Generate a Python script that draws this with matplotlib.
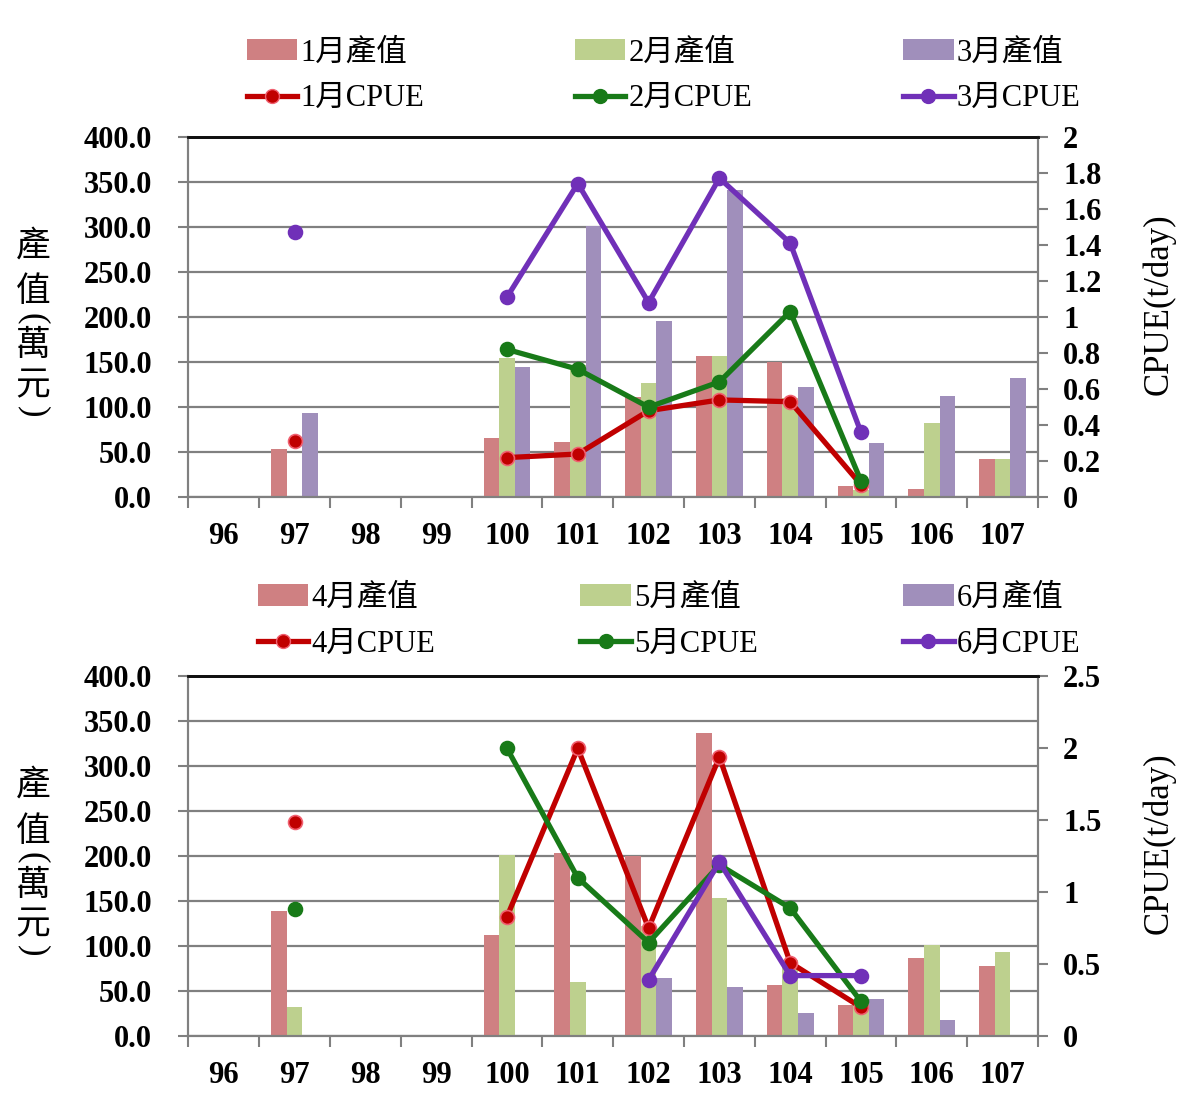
import numpy as np
import matplotlib
matplotlib.use("Agg")
import matplotlib.pyplot as plt
from matplotlib.lines import Line2D
from matplotlib.patches import Patch

plt.rcParams['font.family'] = ['Liberation Serif', 'Noto Sans CJK TC', 'DejaVu Sans']

years = ['96', '97', '98', '99', '100', '101', '102', '103', '104', '105', '106', '107']
nan = np.nan

# top panel: Jan-Mar value (萬元) and CPUE (t/day)
val_m1 = [nan, 54, nan, nan, 66, 61, 111, 157, 150, 13, 9, 43]
val_m2 = [nan, nan, nan, nan, 155, 147, 127, 157, 110, 8, 82, 43]
val_m3 = [nan, 93, nan, nan, 145, 301, 196, 341, 122, 60, 112, 132]
cpue_m1 = [nan, 0.31, nan, nan, 0.22, 0.24, 0.48, 0.54, 0.53, 0.07, nan, nan]
cpue_m2 = [nan, nan, nan, nan, 0.82, 0.71, 0.50, 0.64, 1.03, 0.09, nan, nan]
cpue_m3 = [nan, 1.47, nan, nan, 1.11, 1.74, 1.08, 1.77, 1.41, 0.36, nan, nan]

# bottom panel: Apr-Jun
val_m4 = [nan, 139, nan, nan, 112, 204, 200, 337, 57, 34, 87, 78]
val_m5 = [nan, 32, nan, nan, 201, 60, 122, 153, 85, 36, 101, 94]
val_m6 = [nan, nan, nan, nan, nan, nan, 65, 55, 26, 41, 18, nan]
cpue_m4 = [nan, 1.49, nan, nan, 0.83, 2.0, 0.75, 1.94, 0.51, 0.20, nan, nan]
cpue_m5 = [nan, 0.88, nan, nan, 2.0, 1.10, 0.65, 1.19, 0.89, 0.24, nan, nan]
cpue_m6 = [nan, nan, nan, nan, nan, nan, 0.39, 1.21, 0.42, 0.42, nan, nan]

bar_colors = ['#CF8082', '#BDD08E', '#A08FBB']
line_colors = ['#C00000', '#187A18', '#7030B8']
marker_edges = ['#F06070', '#187A18', '#7030B8']
grey = '#808080'
W, H = 1200, 1120

fig = plt.figure(figsize=(12, 11.2), dpi=100)


def panel(rect, vals, cpues, months, rmax, rstep, leg_rect):
    ax = fig.add_axes(rect)
    x = np.arange(len(years))
    w = 0.22
    for i, v in enumerate(vals):
        ax.bar(x + (i - 1) * w, v, w, color=bar_colors[i], edgecolor='none', zorder=2)
    ax.set_xlim(-0.5, len(years) - 0.5)
    ax.set_ylim(0, 400)
    ax.set_yticks(np.arange(0, 401, 50))
    ax.set_yticklabels(['%.1f' % t for t in np.arange(0, 401, 50)],
                       fontsize=22, fontweight='bold')
    ax.set_xticks(np.arange(-0.5, len(years), 1.0))
    ax.set_xticklabels([])
    ax.set_xticks(x, minor=True)
    ax.set_xticklabels(years, minor=True, fontsize=22, fontweight='bold')
    ax.tick_params(axis='x', which='minor', length=0, pad=18)
    ax.tick_params(axis='x', which='major', length=8, width=1.5, color=grey)
    ax.tick_params(axis='y', length=7, width=1.5, color=grey, pad=19)
    ax.yaxis.grid(True, color=grey, linewidth=1.6)
    ax.set_axisbelow(True)
    for s in ['left', 'bottom', 'right']:
        ax.spines[s].set_color(grey)
        ax.spines[s].set_linewidth(1.5)
    ax.spines['top'].set_color('#111111')
    ax.spines['top'].set_linewidth(2)

    ax2 = ax.twinx()
    for i, c in enumerate(cpues):
        ax2.plot(x, c, color=line_colors[i], linewidth=3.8, marker='o', markersize=10,
                 markerfacecolor=line_colors[i], markeredgecolor=marker_edges[i],
                 markeredgewidth=1.2, zorder=3)
    ax2.set_ylim(0, rmax)
    ticks = np.arange(0, rmax + 1e-9, rstep)
    ax2.set_yticks(ticks)
    ax2.set_yticklabels(['%g' % round(t, 2) for t in ticks], fontsize=22, fontweight='bold')
    ax2.tick_params(axis='y', length=7, width=1.5, color=grey, pad=11)
    for s in ['left', 'bottom', 'right']:
        ax2.spines[s].set_color(grey)
        ax2.spines[s].set_linewidth(1.5)
    ax2.spines['top'].set_color('#111111')
    ax2.spines['top'].set_linewidth(2)
    ax2.set_ylabel('CPUE(t/day)', fontsize=25)
    ax2.yaxis.set_label_coords(1.122, 0.535)

    # vertical left label 產值(萬元)
    mid_px = H * (1 - (rect[1] + rect[3] / 2))
    chars = ['產', '值', '(', '萬', '元', ')']
    offs = [-70, -24, 2, 30, 70, 95]
    for ch, o in zip(chars, offs):
        rot = -90 if ch in '()' else 0
        fig.text(33 / W, 1 - (mid_px + o) / H, ch, fontsize=25, ha='center', va='center',
                 rotation=rot, rotation_mode='anchor')

    handles = []
    labels = []
    for i, m in enumerate(months):
        handles.append(Patch(facecolor=bar_colors[i], edgecolor='none'))
        labels.append('%d月產值' % m)
        handles.append(Line2D([], [], color=line_colors[i], linewidth=3.8, marker='o',
                              markersize=10, markerfacecolor=line_colors[i],
                              markeredgecolor=marker_edges[i]))
        labels.append('%d月CPUE' % m)
    fig.legend(handles, labels, loc='lower left', ncol=3, mode='expand',
               bbox_to_anchor=leg_rect, frameon=False,
               fontsize=22, handlelength=1.65, handletextpad=0.1,
               labelspacing=0.55, borderaxespad=0)
    return ax


panel([0.157, 0.556, 0.708, 0.322], [val_m1, val_m2, val_m3],
      [cpue_m1, cpue_m2, cpue_m3], [1, 2, 3], 2.0, 0.2, (0.1955, 0.888, 0.715, 0.08))
panel([0.157, 0.075, 0.708, 0.321], [val_m4, val_m5, val_m6],
      [cpue_m4, cpue_m5, cpue_m6], [4, 5, 6], 2.5, 0.5, (0.2045, 0.401, 0.706, 0.08))

fig.savefig('out.png', dpi=100)
